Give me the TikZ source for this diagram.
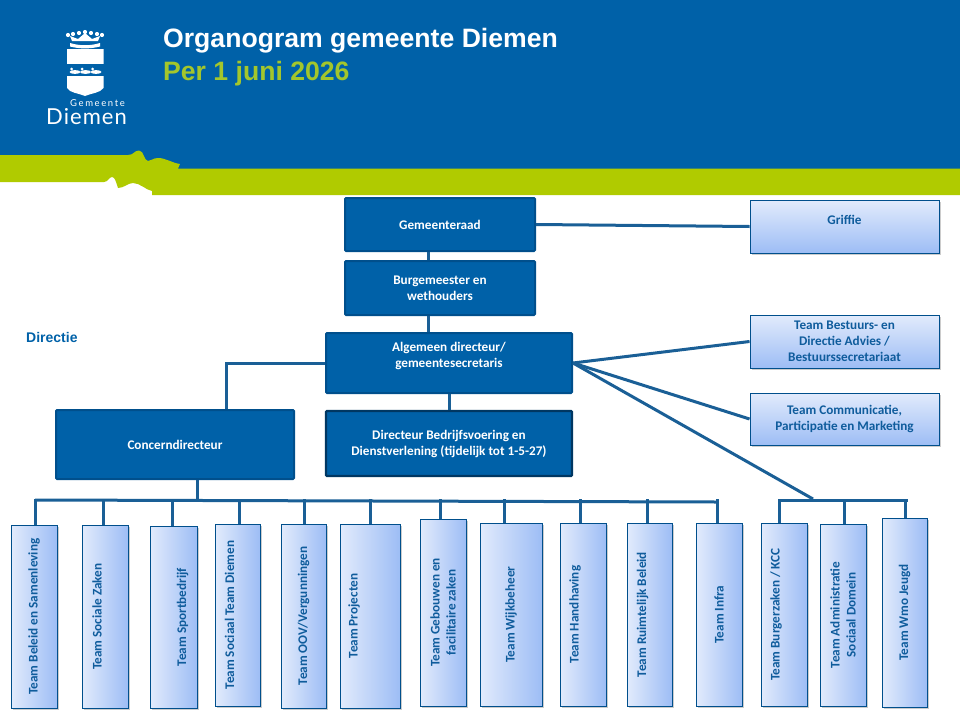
\documentclass[tikz,border=0pt]{standalone}
\usepackage{fontspec}
\setmainfont{Carlito}
\newfontfamily\titlefont{Liberation Sans}
\newfontfamily\logofont{Lato}
\usetikzlibrary{positioning,shadows}
\definecolor{diemenblue}{HTML}{0061A8}
\definecolor{diemengreen}{HTML}{B0CB00}
\definecolor{perlime}{HTML}{A3C62C}
\definecolor{boxline}{HTML}{004F8C}
\definecolor{connline}{HTML}{1A5F96}
\definecolor{darktext}{HTML}{0F5C9C}
\definecolor{lightshade}{HTML}{E2EBFC}
\definecolor{deepshade}{HTML}{9DBDF5}
\tikzset{
  darkbox/.style={draw=boxline,line width=2pt,rounded corners=1pt,fill=diemenblue,text=white,align=center,
    font=\fontsize{13.2}{16}\selectfont\bfseries,inner sep=2pt},
  sidebox/.style={draw=boxline,line width=.9pt,top color=lightshade,bottom color=deepshade,
    text=darktext,align=center,font=\fontsize{13.2}{16}\selectfont\bfseries,inner sep=2pt,
    minimum width=189,drop shadow={shadow xshift=1.5pt,shadow yshift=-2pt,opacity=.4}},
  teambox/.style={draw=boxline,line width=.9pt,left color=lightshade,right color=deepshade,
    minimum width=46,minimum height=183,inner sep=0pt,
    drop shadow={shadow xshift=1.5pt,shadow yshift=-2pt,opacity=.4}},
  teamlabel/.style={rotate=90,align=center,text=darktext,inner sep=0pt,
    font=\fontsize{13.2}{16}\selectfont\bfseries},
  team/.style 2 args={label={[teamlabel,yshift=#1]center:#2}},
  conn/.style={draw=connline,line width=3pt}
}

\begin{document}
\begin{tikzpicture}[x=1pt,y=-1pt]
  \useasboundingbox (0,0) rectangle (960,720);

  % header
  \fill[diemenblue] (0,0) rectangle (960,170);
  \fill[diemengreen] (0,155) -- (128,155) .. controls (134,155) and (134,150.5) .. (139,150.5)
    .. controls (144,150.5) and (144,161) .. (148,161) .. controls (151,161) and (153,158) .. (158,158)
    .. controls (166,158) and (172,163) .. (180,164)
    -- (178,168.5) -- (960,168.5) -- (960,195) -- (152,195) -- (152,191)
    .. controls (146,190) and (140,183) .. (133,183) .. controls (128,183) and (124,188) .. (118,188)
    .. controls (116,182) and (115,177) .. (112,177) .. controls (109,177) and (108,182) .. (104,182)
    -- (0,182) -- cycle;
  \node[anchor=base west,inner sep=0pt,text=white,font=\titlefont\fontsize{26.6}{30}\selectfont\bfseries] (title) at (163,47) {Organogram gemeente Diemen};
  \node[anchor=base west,inner sep=0pt,text=perlime,font=\titlefont\fontsize{26.6}{30}\selectfont\bfseries] (date) at (163,80) {Per 1 juni 2026};
  \node[anchor=base west,inner sep=0pt,text=diemenblue,font=\titlefont\fontsize{14}{16}\selectfont\bfseries] (directie) at (26,342) {Directie};

  % logo
  \fill[white] (67,49) -- (103.5,49) -- (103.5,88) .. controls (100,93) and (92,93) .. (85,96)
    .. controls (78,93) and (70,93) .. (67,88) -- cycle;
  \fill[diemenblue] (66,64) rectangle (105,76);
  \foreach \d in {74.5,85,95.5} {
    \fill[white] (\d+.5,72) ellipse (5.5 and 1.9);
    \fill[white] (\d-3,69) circle (1.5);
  }
  \fill[white] (70,43) .. controls (80,46) and (90,46) .. (100,43) -- (100,46.5)
    .. controls (90,49) and (80,49) .. (70,46.5) -- cycle;
  \fill[white] (72,41) -- (98,41) -- (100,36) -- (92,39) -- (85,33) -- (78,39) -- (70,36) -- cycle;
  \foreach \d/\h in {68/35,73/34,79/33,85/32,91/33,97/34,102/35} {
    \fill[white] (\d,\h) circle (2.1);
  }
  \node[anchor=base east,inner sep=0pt,text=white,font=\logofont\fontsize{9.5}{11}\selectfont] (gemeente) at (125,106.5) {G\,e\,m\,e\,e\,n\,t\,e};
  \node[anchor=base east,inner sep=0pt,text=white,font=\logofont\fontsize{22}{24}\selectfont] (diemen) at (127,124) {D\kern1pt i\kern1pt e\kern1pt m\kern1pt e\kern1pt n};

  % top of the organisation
  \node[darkbox,minimum width=190,minimum height=53] (raad) at (440,224.5) {Gemeenteraad};
  \node[darkbox,minimum width=190,minimum height=54] (burg) [below=8pt of raad] {Burgemeester en\\wethouders};
  \node[darkbox,minimum width=246,minimum height=60,text depth=16] (alg) at (449,363) {Algemeen directeur/\\gemeentesecretaris};
  \node[darkbox,minimum width=246,minimum height=65,draw=boxline!70!black,line width=2.4pt] (bedr) at (449,443.5) {Directeur Bedrijfsvoering en\\Dienstverlening (tijdelijk tot 1-5-27)};
  \node[darkbox,minimum width=238,minimum height=69] (conc) at (175,444.5) {Concerndirecteur};

  \node[sidebox,minimum height=53,text depth=14] (griffie) at (844.5,226.5) {Griffie};
  \node[sidebox,minimum height=53] (best) at (844.5,341.5) {Team Bestuurs- en\\Directie Advies /\\Bestuurssecretariaat};
  \node[sidebox,minimum height=52] (comm) at (844.5,419) {Team Communicatie,\\Participatie en Marketing};

  % teams
  \node[teambox,team={0}{Team Beleid en Samenleving}] (t1) at (34,616.5) {};
  \node[teambox,team={8}{Team Sociale Zaken}] (t2) at (105,616.5) {};
  \node[teambox,minimum width=47,minimum height=182,team={-9}{Team Sportbedrijf}] (t3) at (173.5,617) {};
  \node[teambox,minimum width=45,minimum height=182,team={8}{Team Sociaal Team Diemen}] (t4) at (237.5,615) {};
  \node[teambox,minimum width=45,minimum height=184,team={0}{Team OOV/Vergunningen}] (t5) at (303.5,616) {};
  \node[teambox,minimum width=60,minimum height=184,team={16}{Team Projecten}] (t6) at (370,616) {};
  \node[teambox,minimum height=187,team={0}{Team Gebouwen en\\facilitaire zaken}] (t7) at (443,612.5) {};
  \node[teambox,minimum width=62,team={0}{Team Wijkbeheer}] (t8) at (511,614.5) {};
  \node[teambox,team={8}{Team Handhaving}] (t9) at (583,614.5) {};
  \node[teambox,minimum width=45,team={7}{Team Ruimtelijk Beleid}] (t10) at (649.5,614.5) {};
  \node[teambox,team={0}{Team Infra}] (t11) at (719,614.5) {};
  \node[teambox,team={8}{Team Burgerzaken / KCC}] (t12) at (784,614.5) {};
  \node[teambox,minimum height=182,team={0}{Team Administratie\\Sociaal Domein}] (t13) at (843,615) {};
  \node[teambox,minimum width=45,minimum height=189,team={0}{Team Wmo Jeugd}] (t14) at (904.5,612.5) {};

  % the two bus lines
  \coordinate (bus) at (197,500);
  \coordinate (busl) at (35,500);
  \coordinate (busr) at (717,502);
  \coordinate (rbus) at (813,499);
  \coordinate (rbusl) at (779,500);
  \coordinate (rbusr) at (908,500);

  \path[conn]
  ([xshift=-12]raad.south) edge ([xshift=-12]burg.north)
  ([xshift=-12]burg.south) edge ([xshift=-21]alg.north)
  (alg.south) edge (bedr.north)
  (raad.east) edge (griffie.west)
  (alg.east) edge (best.west)
  (alg.east) edge (comm.west)
  (alg.east) edge (rbus)
  (bus |- conc.south) edge (bus)
  (busl) edge (busr)
  (rbusl) edge (rbusr);
  \draw[conn] (alg.west) -| ([xshift=51]conc.north);

  \foreach \t/\x in {t1/35,t2/103,t3/172,t4/239,t5/304,t6/370,t7/440,t8/504,t9/580,t10/647,t11/717,t12/779,t13/844,t14/905} {
    \draw[conn] (\x,499) -- (\x,499 |- \t.north);
  }
\end{tikzpicture}
\end{document}
